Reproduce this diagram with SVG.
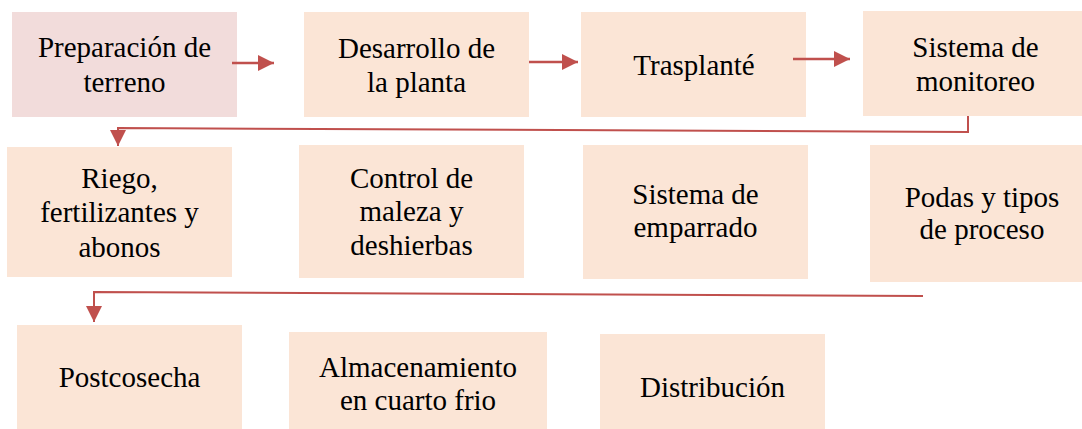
<svg xmlns="http://www.w3.org/2000/svg" width="1082" height="429" viewBox="0 0 1082 429">
<style>
.box{fill:#fbe5d6}
.pink{fill:#f2dcdb}
text{font-family:'Liberation Serif','DejaVu Serif',serif;font-size:29px;fill:#000;text-anchor:middle}
.arr{stroke:#c0504d;stroke-width:2.5;fill:none}
.con{stroke:#c0504d;stroke-width:2;fill:none}
</style>
<defs>
<marker id="ah" markerUnits="userSpaceOnUse" markerWidth="16" markerHeight="16" refX="16" refY="8" orient="auto">
<path d="M0,0 L16,8 L0,16 Z" fill="#c0504d"/>
</marker>
</defs>
<rect width="1082" height="429" fill="#fff"/>
<g font-family="Liberation Serif, DejaVu Serif, serif">
<g id="n1"><rect class="pink" x="12" y="12" width="225" height="105"/><text x="124.5" y="57">Preparación de</text><text x="124.5" y="92">terreno</text></g>
<g id="n2"><rect class="box" x="304" y="12" width="225" height="105"/><text x="416.5" y="58">Desarrollo de</text><text x="416.5" y="92">la planta</text></g>
<g id="n3"><rect class="box" x="581" y="12" width="225" height="105"/><text x="694" y="75">Trasplanté</text></g>
<g id="n4"><rect class="box" x="863" y="11" width="225" height="105"/><text x="975.5" y="57">Sistema de</text><text x="975.5" y="91">monitoreo</text></g>
<g id="n5"><rect class="box" x="7" y="147" width="225" height="130"/><text x="119.5" y="188">Riego,</text><text x="119.5" y="222">fertilizantes y</text><text x="119.5" y="257">abonos</text></g>
<g id="n6"><rect class="box" x="299" y="145" width="225" height="133"/><text x="411.5" y="188">Control de</text><text x="411.5" y="221">maleza y</text><text x="411.5" y="255">deshierbas</text></g>
<g id="n7"><rect class="box" x="583" y="145" width="225" height="134"/><text x="695.5" y="204">Sistema de</text><text x="695.5" y="237">emparrado</text></g>
<g id="n8"><rect class="box" x="870" y="145" width="224" height="137"/><text x="982" y="207">Podas y tipos</text><text x="982" y="239">de proceso</text></g>
<g id="n9"><rect class="box" x="17" y="325" width="225" height="104"/><text x="129.5" y="387">Postcosecha</text></g>
<g id="n10"><rect class="box" x="289" y="332" width="258" height="97"/><text x="418" y="377">Almacenamiento</text><text x="418" y="410">en cuarto frio</text></g>
<g id="n11"><rect class="box" x="600" y="334" width="225" height="95"/><text x="712.5" y="397">Distribución</text></g>
</g>
<g id="connectors">
<path class="arr" d="M232,63 L274,63" marker-end="url(#ah)"/>
<path class="arr" d="M529,62 L578,62" marker-end="url(#ah)"/>
<path class="arr" d="M793,59 L850,59" marker-end="url(#ah)"/>
<path class="con" d="M968,116 L968,132 L118,128 L118,146" marker-end="url(#ah)"/>
<path class="con" d="M923,296 L94,292 L94,322" marker-end="url(#ah)"/>
</g>
</svg>
